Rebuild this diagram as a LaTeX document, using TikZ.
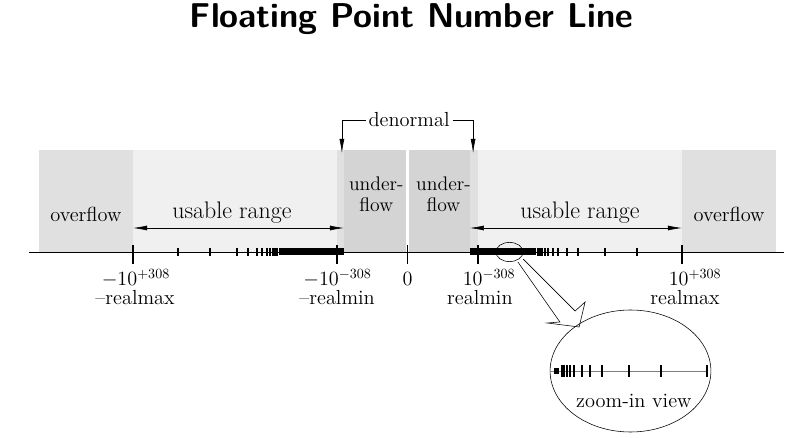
\documentclass[tikz,border=0pt]{standalone}
\usepackage{amsmath,amssymb}
\usepackage{xcolor}
\usepackage{tikz}
\usetikzlibrary{arrows.meta,shapes.geometric}
\definecolor{flowgray}{gray}{0.88}
\definecolor{usegray}{gray}{0.94}
\definecolor{undergray}{gray}{0.83}

\begin{document}
\begin{tikzpicture}[
  lbl/.style={font=\fontsize{14.5}{12.5}\selectfont},
  twolines/.style={font=\fontsize{14}{14.5}\selectfont,align=center},
  rangelbl/.style={font=\fontsize{17}{19}\selectfont,anchor=base},
  tip/.style={-{Latex[length=10pt,width=3.5pt]}},
  bothtips/.style={{Latex[length=10pt,width=3.5pt]}-{Latex[length=10pt,width=3.5pt]}},
  bigtick/.style={line width=1.1pt},
  smalltick/.style={line width=0.9pt},
]
\useasboundingbox (-10.1875,-4.65) rectangle (9.5625,6.3);
\node[font=\fontsize{24.5}{28}\sffamily\bfseries\selectfont,anchor=base] (title) at (0.1,5.6) {Floating Point Number Line};

% shaded bands
\fill[flowgray] (-9.21,0) rectangle (-6.86,2.55);
\fill[usegray] (-6.86,0) rectangle (-1.76,2.55);
\fill[flowgray] (-1.76,0) rectangle (-1.59,2.55);
\fill[undergray] (-1.59,0) rectangle (-0.04,2.55);
\fill[undergray] (0.04,0) rectangle (1.56,2.55);
\fill[flowgray] (1.56,0) rectangle (1.76,2.55);
\fill[usegray] (1.76,0) rectangle (6.86,2.55);
\fill[flowgray] (6.86,0) rectangle (9.21,2.55);

\node[lbl,anchor=base] (ovfl) at (-8.04,0.75) {overflow};
\node[lbl,anchor=base] (ovfr) at (8.04,0.75) {overflow};
\node[twolines] (unfl) at (-0.78,1.44) {under-\\flow};
\node[twolines] (unfr) at (0.9,1.44) {under-\\flow};
\node[rangelbl] (usel) at (-4.39,0.825) {usable range};
\node[rangelbl] (user) at (4.31,0.825) {usable range};

% usable range arrows
\coordinate (ul1) at (-6.86,0.6);
\coordinate (ul2) at (-1.59,0.6);
\coordinate (ur1) at (1.56,0.6);
\coordinate (ur2) at (6.86,0.6);
\draw[bothtips] (ul1) -- (ul2);
\draw[bothtips] (ur1) -- (ur2);

% denormal bracket
\node[lbl,inner sep=2pt,anchor=base] (denorm) at (0.04,3.125) {denormal};
\coordinate (dnl) at (-1.64,2.475);
\coordinate (dnr) at (1.64,2.475);
\draw[tip] (denorm.west) -| (dnl);
\draw[tip] (denorm.east) -| (dnr);

% number line
\coordinate (axl) at (-9.46,0);
\coordinate (axr) at (9.4,0);
\draw[line width=0.7pt] (axl) -- (axr);
\foreach \x in {-6.86,-1.76,0,1.76,6.86}
  \draw[bigtick] (\x,0.175) -- (\x,-0.3);
\foreach \x in {5.74,4.94,4.26,3.99,3.76,3.64,3.51,3.44,3.36,3.31,3.26} {
  \draw[smalltick] (\x,0.1) -- (\x,-0.1);
  \draw[smalltick] (-\x,0.1) -- (-\x,-0.1);
}
\fill (-3.2,-0.075) rectangle (-1.59,0.1);
\fill (1.56,-0.075) rectangle (3.2,0.1);

% labels under the line
\node[lbl,anchor=base] (nmax) at (-6.79,-0.84) {$-10^{+308}$};
\node[lbl,anchor=base] (nmaxn) at (-6.81,-1.325) {--realmax};
\node[lbl,anchor=base] (nmin) at (-1.75,-0.84) {$-10^{-308}$};
\node[lbl,anchor=base] (nminn) at (-1.76,-1.325) {--realmin};
\node[lbl,anchor=base] (zero) at (0,-0.84) {$0$};
\node[lbl,anchor=base] (pmin) at (2.04,-0.84) {$10^{-308}$};
\node[lbl,anchor=base] (pminn) at (1.81,-1.325) {realmin};
\node[lbl,anchor=base] (pmax) at (7.19,-0.84) {$10^{+308}$};
\node[lbl,anchor=base] (pmaxn) at (6.94,-1.325) {realmax};

% zoom
\node[draw,ellipse,line width=0.4pt,inner sep=0pt,minimum width=0.68cm,minimum height=0.48cm] (lens) at (2.55,0) {};
\node[draw,ellipse,line width=0.4pt,inner sep=0pt,minimum width=4.02cm,minimum height=3.05cm] (zoomview) at (5.575,-2.975) {};
\draw[line width=0.4pt] (2.76,-0.25) -- (3.81,-1.75) -- (3.49,-1.775) -- (4.29,-1.875)
  -- (4.44,-1.25) -- (4.19,-1.475) -- (2.89,-0.175);

\draw[gray,line width=0.6pt] (3.56,-2.975) -- (7.51,-2.975);
\fill (3.66,-3.05) rectangle (3.79,-2.9);
\foreach \x in {3.86,3.91,3.99,4.06,4.16,4.36,4.56,4.86,5.54,6.34,7.49}
  \draw[smalltick] (\x,-2.835) -- (\x,-3.115);
\node[lbl,anchor=base] (zoomtxt) at (5.66,-3.875) {zoom-in view};
\end{tikzpicture}
\end{document}
